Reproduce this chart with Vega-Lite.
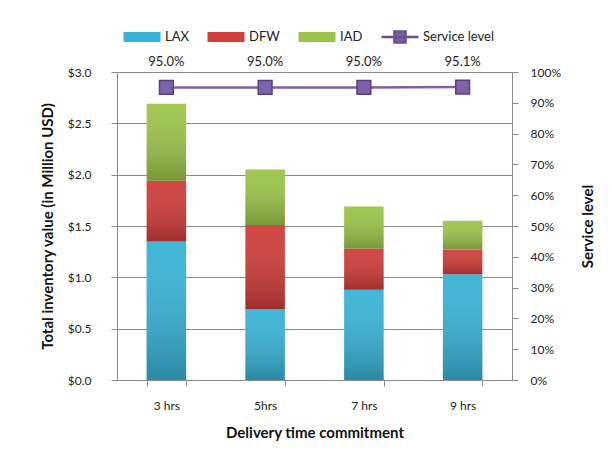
{
  "$schema": "https://vega.github.io/schema/vega-lite/v6.json",
  "width": 395,
  "height": 308,
  "autosize": {"type": "none"},
  "padding": {"left": 117, "top": 72, "right": 100, "bottom": 83},
  "background": "white",
  "config": {
    "font": "Lato",
    "view": {"stroke": null},
    "axis": {
      "domainColor": "#8a8a8a",
      "tickColor": "#8a8a8a",
      "gridColor": "#8a8a8a",
      "labelFont": "Lato",
      "labelFontSize": 12,
      "labelColor": "#222222",
      "titleFont": "Lato",
      "titleFontSize": 15,
      "titleFontWeight": "bold",
      "titleColor": "#111111",
      "tickSize": 6
    }
  },
  "datasets": {
    "inv": [
      {"time": "3 hrs", "series": "LAX", "value": 1.35},
      {"time": "3 hrs", "series": "DFW", "value": 0.59},
      {"time": "3 hrs", "series": "IAD", "value": 0.75},
      {"time": "5hrs", "series": "LAX", "value": 0.69},
      {"time": "5hrs", "series": "DFW", "value": 0.82},
      {"time": "5hrs", "series": "IAD", "value": 0.54},
      {"time": "7 hrs", "series": "LAX", "value": 0.88},
      {"time": "7 hrs", "series": "DFW", "value": 0.40},
      {"time": "7 hrs", "series": "IAD", "value": 0.41},
      {"time": "9 hrs", "series": "LAX", "value": 1.03},
      {"time": "9 hrs", "series": "DFW", "value": 0.24},
      {"time": "9 hrs", "series": "IAD", "value": 0.28}
    ],
    "svc": [
      {"time": "3 hrs", "level": 0.950},
      {"time": "5hrs", "level": 0.950},
      {"time": "7 hrs", "level": 0.950},
      {"time": "9 hrs", "level": 0.951}
    ]
  },
  "encoding": {
    "x": {
      "field": "time",
      "type": "nominal",
      "sort": ["3 hrs", "5hrs", "7 hrs", "9 hrs"],
      "scale": {"paddingInner": 0.6, "paddingOuter": 0.3},
      "axis": {
        "title": "Delivery time commitment",
        "labelAngle": 0,
        "labelPadding": 14,
        "titlePadding": 14,
        "tickBand": "extent"
      }
    }
  },
  "layer": [
    {
      "data": {"name": "inv"},
      "transform": [
        {"calculate": "indexof(['LAX','DFW','IAD'], datum.series)", "as": "ord"}
      ],
      "encoding": {
        "y": {
          "field": "value",
          "type": "quantitative",
          "stack": "zero",
          "scale": {"domain": [0, 3], "nice": false},
          "axis": {
            "title": "Total inventory value (in Million USD)",
            "format": "$.1f",
            "values": [0, 0.5, 1, 1.5, 2, 2.5, 3],
            "grid": true,
            "labelPadding": 20,
            "titlePadding": 12
          }
        },
        "order": {"field": "ord", "type": "quantitative"}
      },
      "layer": [
        {
          "mark": {"type": "bar"},
          "encoding": {
            "color": {
              "field": "series",
              "type": "nominal",
              "scale": {
                "domain": ["LAX", "DFW", "IAD", "Service level"],
                "range": ["#38B3D6", "#CF3E3A", "#9CC44A", "#7B5EA5"]
              },
              "legend": {
                "orient": "none",
                "legendX": 5,
                "legendY": -55,
                "direction": "horizontal",
                "gridAlign": "none",
                "title": null,
                "symbolSize": 1369,
                "symbolOpacity": 1,
                "symbolStrokeWidth": 2.5,
                "labelFont": "Lato",
                "labelFontSize": 13,
                "labelColor": "#222222",
                "labelOffset": 3,
                "columnPadding": 13,
                "encode": {
                  "symbols": {
                    "update": {
                      "shape": {"signal": "datum.value === 'Service level' ? 'M-1,0H1M-0.3,-0.3H0.3V0.3H-0.3Z' : 'M-1,-0.27H1V0.27H-1Z'"},
                      "stroke": {"signal": "datum.value === 'Service level' ? '#6A4F96' : 'transparent'"}
                    }
                  }
                }
              }
            }
          }
        },
        {
          "mark": {
            "type": "bar",
            "fill": {
              "gradient": "linear",
              "x1": 0, "y1": 0, "x2": 0, "y2": 1,
              "stops": [
                {"offset": 0, "color": "rgba(255,255,255,0.05)"},
                {"offset": 1, "color": "rgba(0,0,0,0.23)"}
              ]
            }
          },
          "encoding": {
            "detail": {"field": "series", "type": "nominal"}
          }
        }
      ]
    },
    {
      "data": {"name": "svc"},
      "encoding": {
        "y": {
          "field": "level",
          "type": "quantitative",
          "scale": {"domain": [0, 1], "nice": false},
          "axis": {
            "orient": "right",
            "title": "Service level",
            "titleAngle": 270,
            "format": ".0%",
            "values": [0, 0.1, 0.2, 0.3, 0.4, 0.5, 0.6, 0.7, 0.8, 0.9, 1],
            "grid": false,
            "labelPadding": 12,
            "titlePadding": 35
          }
        }
      },
      "layer": [
        {"mark": {"type": "line", "color": "#7D60A8", "strokeWidth": 2.5}},
        {"mark": {"type": "point", "shape": "square", "filled": true, "size": 190, "fill": "#7E62AA", "stroke": "#57407F", "strokeWidth": 1.5, "opacity": 1}},
        {
          "mark": {"type": "text", "dy": -25, "fontSize": 13, "color": "#222222"},
          "encoding": {"text": {"field": "level", "type": "quantitative", "format": ".1%"}}
        }
      ]
    }
  ],
  "resolve": {"scale": {"y": "independent"}}
}
